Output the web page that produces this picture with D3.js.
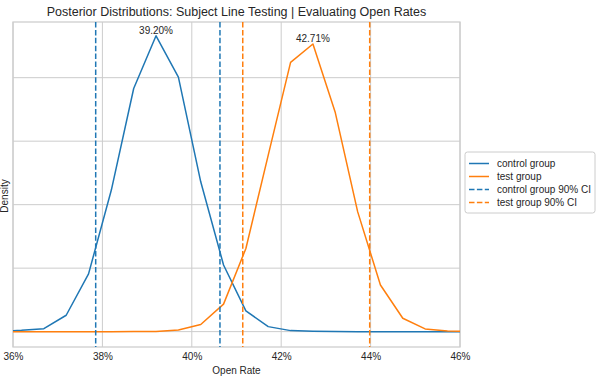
<!DOCTYPE html>
<meta charset="utf-8">
<style>
html, body {
    margin: 0;
    background: white;
}
svg {
    font-family: "Liberation Sans", Arial, sans-serif;
}
.grid line {
    stroke: #cccccc;
    stroke-width: 1;
}
.axis text {
    fill: #262626;
    font-size: 10px;
}
</style>
<body>
<script src="https://cdn.jsdelivr.net/npm/d3@7"></script>
<script>

var width = 599,
    height = 380;

var margin = {left: 13, right: 139, top: 22, bottom: 33};

// open rate grid (proportion) shared by both posteriors
var rates = [0.3568, 0.3619, 0.3669, 0.3719, 0.3769, 0.3820, 0.3870, 0.3920, 0.3970, 0.4020,
             0.4071, 0.4121, 0.4171, 0.4221, 0.4271, 0.4321, 0.4371, 0.4422, 0.4472, 0.4522,
             0.4572, 0.4622];

var controlDensity = [0.03, 0.2, 0.47, 2.58, 9.09, 22.3, 38.3, 46.6, 40.1, 23.6,
                      10.5, 3.26, 0.79, 0.16, 0.05, 0.01, 0, 0, 0, 0,
                      0, 0];

var testDensity = [0, 0, 0, 0, 0, 0, 0.01, 0.03, 0.27, 1.13,
                   4.33, 13.1, 27.8, 42.4, 45.3, 34.5, 18.9, 7.35, 2.11, 0.43,
                   0.11, 0.02];

var controlCI = [0.3785, 0.4063];
var testCI = [0.4114, 0.4398];

var peakLabels = ["39.20%", "42.71%"];

var xTicks = [0.36, 0.38, 0.40, 0.42, 0.44, 0.46];
var yTicks = [0, 10, 20, 30, 40];

var blue = "#1f77b4",
    orange = "#ff7f0e";

var x = d3.scaleLinear()
    .domain([0.36, 0.46])
    .range([margin.left, width - margin.right]);

var y = d3.scaleLinear()
    .domain([-2.42, 48.77])
    .range([height - margin.bottom, margin.top]);

var svg = d3.select("body").append("svg")
    .attr("width", width)
    .attr("height", height);

svg.append("defs").append("clipPath")
    .attr("id", "plot-clip")
  .append("rect")
    .attr("x", x.range()[0])
    .attr("y", y.range()[1])
    .attr("width", x.range()[1] - x.range()[0])
    .attr("height", y.range()[0] - y.range()[1]);

// gridlines
svg.append("g")
    .attr("class", "grid")
    .selectAll("line.v")
    .data(xTicks)
    .enter().append("line")
    .attr("x1", d => x(d)).attr("x2", d => x(d))
    .attr("y1", y.range()[1]).attr("y2", y.range()[0]);

svg.append("g")
    .attr("class", "grid")
    .selectAll("line.h")
    .data(yTicks)
    .enter().append("line")
    .attr("x1", x.range()[0]).attr("x2", x.range()[1])
    .attr("y1", d => y(d)).attr("y2", d => y(d));

// frame
svg.append("rect")
    .attr("x", x.range()[0])
    .attr("y", y.range()[1])
    .attr("width", x.range()[1] - x.range()[0])
    .attr("height", y.range()[0] - y.range()[1])
    .style("fill", "none")
    .style("stroke", "#cccccc")
    .style("stroke-width", 1.25);

// x axis labels only, no tick marks
var xAxis = svg.append("g")
    .attr("class", "axis")
    .attr("transform", "translate(0," + y.range()[0] + ")")
    .call(d3.axisBottom(x).tickValues(xTicks).tickSize(0).tickPadding(6)
        .tickFormat(d => Math.round(d * 100) + "%"));
xAxis.select(".domain").remove();

svg.append("text")
    .attr("x", (x.range()[0] + x.range()[1]) / 2)
    .attr("y", 374)
    .attr("text-anchor", "middle")
    .style("font-size", "10px")
    .style("fill", "#262626")
    .text("Open Rate");

svg.append("text")
    .attr("transform", "translate(8," + 196 + ") rotate(-90)")
    .attr("text-anchor", "middle")
    .style("font-size", "10px")
    .style("fill", "#262626")
    .text("Density");

svg.append("text")
    .attr("x", (x.range()[0] + x.range()[1]) / 2)
    .attr("y", 16)
    .attr("text-anchor", "middle")
    .style("font-size", "12.5px")
    .style("fill", "#262626")
    .text("Posterior Distributions: Subject Line Testing | Evaluating Open Rates");

var plot = svg.append("g").attr("clip-path", "url(#plot-clip)");

var line = d3.line()
    .x(d => x(d[0]))
    .y(d => y(d[1]));

var series = [
    {name: "control group", color: blue, values: d3.zip(rates, controlDensity), ci: controlCI, label: peakLabels[0]},
    {name: "test group", color: orange, values: d3.zip(rates, testDensity), ci: testCI, label: peakLabels[1]}
];

series.forEach(s => {
    plot.append("path")
        .datum(s.values)
        .attr("d", line)
        .style("fill", "none")
        .style("stroke", s.color)
        .style("stroke-width", 1.5)
        .style("stroke-linejoin", "round");
});

series.forEach(s => {
    plot.selectAll(null)
        .data(s.ci)
        .enter().append("line")
        .attr("x1", d => x(d)).attr("x2", d => x(d))
        .attr("y1", y.range()[1]).attr("y2", y.range()[0])
        .style("stroke", s.color)
        .style("stroke-width", 1.5)
        .style("stroke-dasharray", "5.5,2.4");
});

// peak annotations
series.forEach(s => {
    var peak = s.values.reduce((a, b) => b[1] > a[1] ? b : a);
    svg.append("text")
        .attr("x", x(peak[0]))
        .attr("y", y(peak[1]) - 2)
        .attr("text-anchor", "middle")
        .style("font-size", "10px")
        .style("fill", "#262626")
        .text(s.label);
});

// legend
var legend = svg.append("g")
    .attr("transform", "translate(465,152)");

legend.append("rect")
    .attr("width", 130)
    .attr("height", 61)
    .attr("rx", 2.5)
    .style("fill", "white")
    .style("stroke", "#cccccc")
    .style("stroke-width", 1);

var legendItems = [
    {name: "control group", color: blue, dash: null},
    {name: "test group", color: orange, dash: null},
    {name: "control group 90% CI", color: blue, dash: "5.5,2.4"},
    {name: "test group 90% CI", color: orange, dash: "5.5,2.4"}
];

var item = legend.selectAll("g.item")
    .data(legendItems)
    .enter().append("g")
    .attr("transform", (d, i) => "translate(0," + (11.5 + i * 13) + ")");

item.append("line")
    .attr("x1", 4).attr("x2", 24)
    .style("stroke", d => d.color)
    .style("stroke-width", 1.5)
    .style("stroke-dasharray", d => d.dash);

item.append("text")
    .attr("x", 32)
    .attr("y", 3.5)
    .style("font-size", "10px")
    .style("fill", "#262626")
    .text(d => d.name);

</script>
